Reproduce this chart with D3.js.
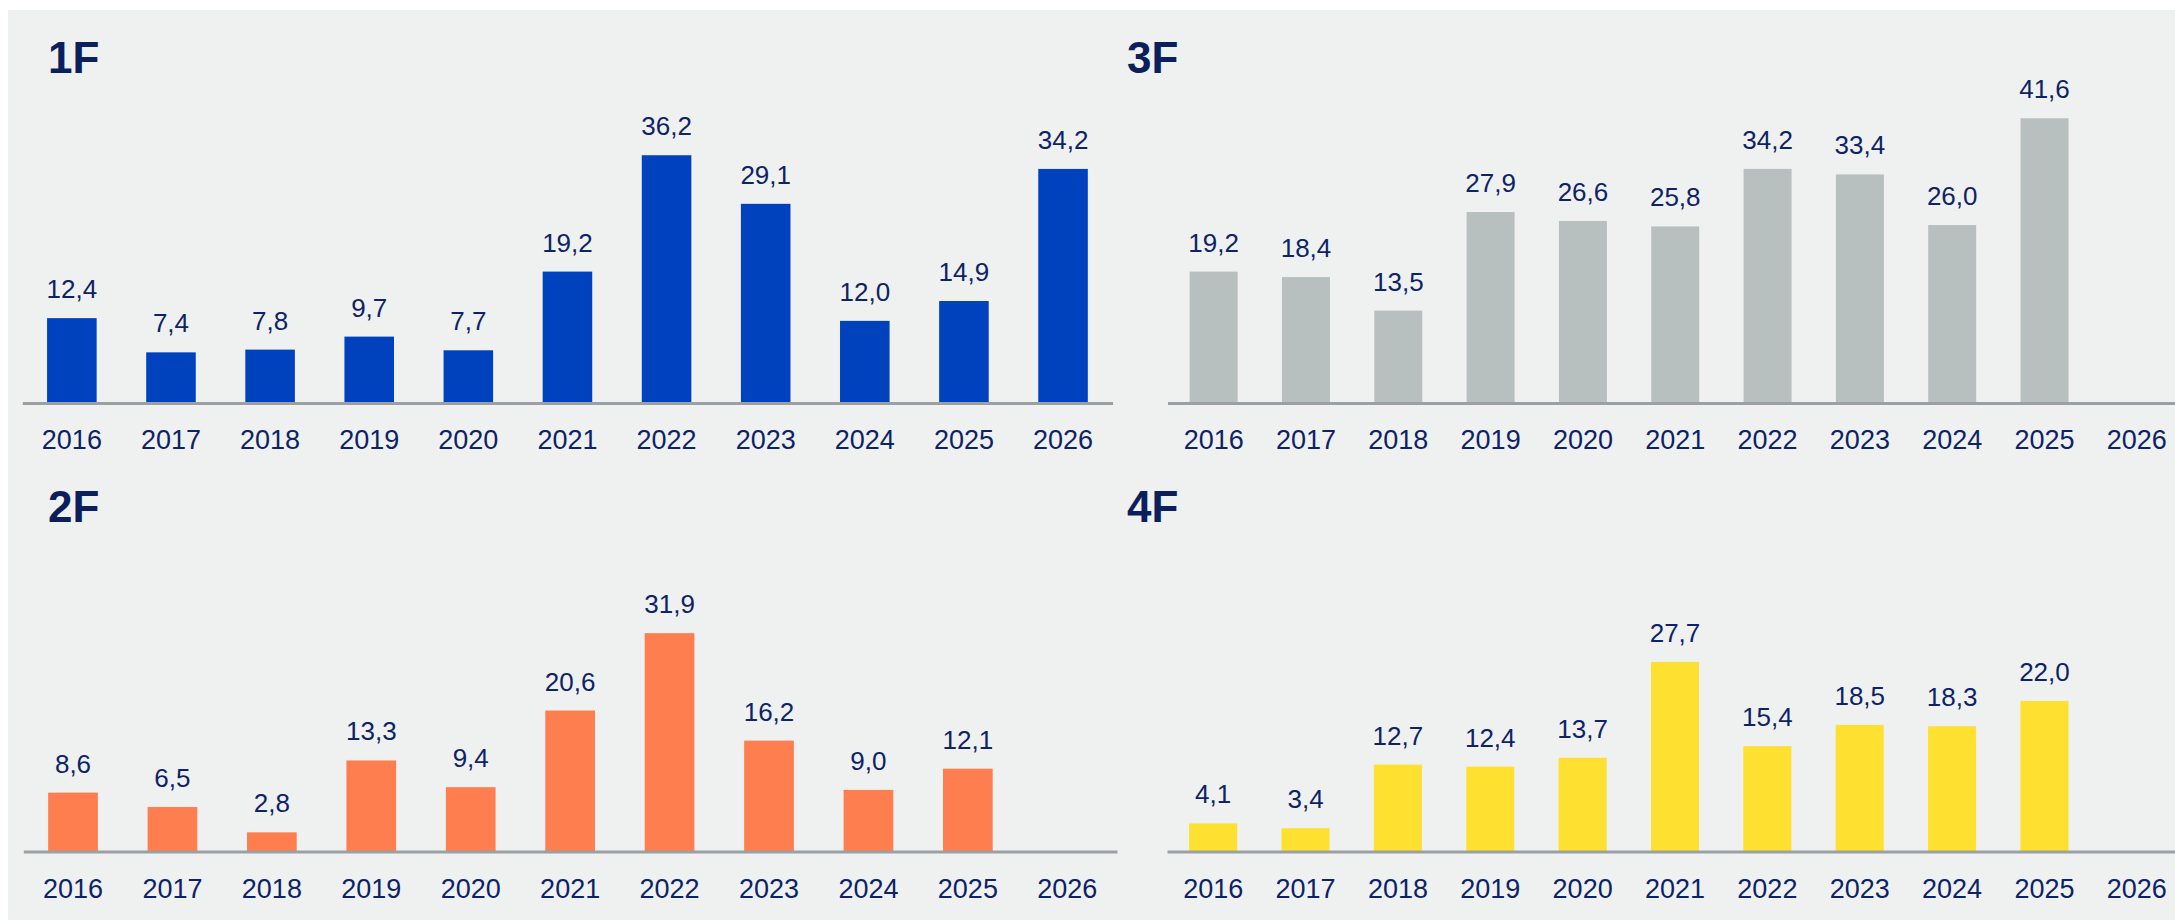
<!DOCTYPE html>
<html lang="en">
  <head>
    <meta charset="UTF-8" />
    <title>1F-4F by year</title>
    <script src="https://d3js.org/d3.v7.min.js"></script>
    <style>
      body {
        margin: 0;
        background: #ffffff;
      }
      svg text {
        font-family: 'Liberation Sans', Arial, Helvetica, sans-serif;
      }
    </style>
  </head>
  <body>
    <div id="chart"></div>
    <script>
      const years = ['2016', '2017', '2018', '2019', '2020', '2021', '2022', '2023', '2024', '2025', '2026'];

      const values1F = [12.4, 7.4, 7.8, 9.7, 7.7, 19.2, 36.2, 29.1, 12.0, 14.9, 34.2];
      const values2F = [8.6, 6.5, 2.8, 13.3, 9.4, 20.6, 31.9, 16.2, 9.0, 12.1, null];
      const values3F = [19.2, 18.4, 13.5, 27.9, 26.6, 25.8, 34.2, 33.4, 26.0, 41.6, null];
      const values4F = [4.1, 3.4, 12.7, 12.4, 13.7, 27.7, 15.4, 18.5, 18.3, 22.0, null];

      const width = 2175;
      const height = 920;
      const textColor = '#0d2366';

      const panels = [
        { name: '1F', values: values1F, color: '#0041be', titleX: 48, titleY: 73, axisY: 403, x0: 22.3, x1: 1112.6, pad: 0.5 },
        { name: '3F', values: values3F, color: '#b8c0bf', titleX: 1127, titleY: 73, axisY: 403, x0: 1167.5, x1: 2183, pad: 0.48 },
        { name: '2F', values: values2F, color: '#ff7e50', titleX: 48, titleY: 522, axisY: 851.5, x0: 23.3, x1: 1117, pad: 0.5 },
        { name: '4F', values: values4F, color: '#fde030', titleX: 1127, titleY: 522, axisY: 851.5, x0: 1167, x1: 2183, pad: 0.48 }
      ];

      const svg = d3
        .select('#chart')
        .append('svg')
        .attr('width', width)
        .attr('height', height);

      svg
        .append('rect')
        .attr('x', 8)
        .attr('y', 10)
        .attr('width', width - 8)
        .attr('height', height - 10)
        .attr('fill', '#eff1f0');

      // same vertical scale in every panel
      const y = d3.scaleLinear().domain([0, 45]).range([0, 308]);

      const fmt = (v) => v.toFixed(1).replace('.', ',');

      panels.forEach((p) => {
        const data = years.map((yr, i) => ({ year: yr, value: p.values[i] }));

        const x = d3
          .scaleBand()
          .domain(years)
          .range([p.x0, p.x1])
          .paddingInner(p.pad)
          .paddingOuter(p.pad / 2);

        const g = svg.append('g').attr('transform', 'translate(0,' + p.axisY + ')');

        g.selectAll('rect.bar')
          .data(data.filter((d) => d.value != null))
          .enter()
          .append('rect')
          .attr('class', 'bar')
          .attr('x', (d) => x(d.year))
          .attr('y', (d) => -y(d.value))
          .attr('width', x.bandwidth())
          .attr('height', (d) => y(d.value))
          .attr('fill', p.color);

        g.selectAll('text.val')
          .data(data.filter((d) => d.value != null))
          .enter()
          .append('text')
          .attr('class', 'val')
          .attr('x', (d) => x(d.year) + x.bandwidth() / 2)
          .attr('y', (d) => -y(d.value) - 20)
          .attr('text-anchor', 'middle')
          .attr('font-size', 26)
          .attr('fill', textColor)
          .text((d) => fmt(d.value));

        const axis = g
          .append('g')
          .call(d3.axisBottom(x).tickSize(0).tickSizeOuter(0).tickPadding(27));

        axis.select('.domain').attr('stroke', '#9ba0a3').attr('stroke-width', 3);
        axis
          .selectAll('text')
          .attr('font-size', 27)
          .attr('font-family', "'Liberation Sans', Arial, sans-serif")
          .attr('fill', textColor);

        svg
          .append('text')
          .attr('x', p.titleX)
          .attr('y', p.titleY)
          .attr('font-size', 44)
          .attr('font-weight', 'bold')
          .attr('fill', '#0a1f5c')
          .text(p.name);
      });
    </script>
  </body>
</html>
